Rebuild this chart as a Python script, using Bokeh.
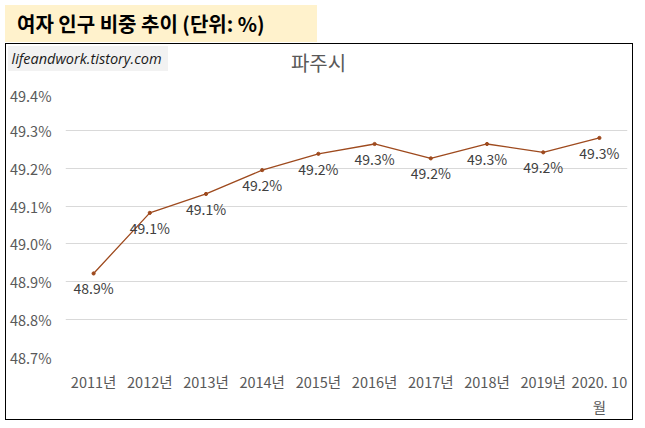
from bokeh.plotting import figure
from bokeh.models import Div, FixedTicker, PrintfTickFormatter, ColumnDataSource
from bokeh.layouts import column
from bokeh.embed import file_html
from bokeh.resources import INLINE
from bokeh.core.properties import value

header = "여자 인구 비중 추이 (단위: %)"
chart_title = "파주시"
watermark = "lifeandwork.tistory.com"
categories = ["2011년", "2012년", "2013년", "2014년", "2015년", "2016년",
              "2017년", "2018년", "2019년", "2020. 10\n월"]
values = [48.922, 49.082, 49.132, 49.195, 49.238, 49.264, 49.226, 49.264, 49.242, 49.280]
data_labels = ["48.9%", "49.1%", "49.1%", "49.2%", "49.2%", "49.3%", "49.2%", "49.3%", "49.2%", "49.3%"]
y_ticks = [48.7, 48.8, 48.9, 49.0, 49.1, 49.2, 49.3, 49.4]

KR = "Noto Sans CJK KR"
LINE = "#9E4A1E"
W = 626

src = ColumnDataSource(dict(cat=categories, val=values, lab=data_labels))

# top strip of the chart box (watermark + chart title)
strip_html = (
    '<div style="position:relative;width:626px;height:40px;background:#ffffff;overflow:hidden;">'
    '<div style="position:absolute;left:1.5px;top:1.5px;height:25px;line-height:25px;padding:0 6px 0 4px;'
    'background:#F2F2F2;font-family:\'Open Sans\';font-style:italic;font-size:14.5px;color:#1a1a1a;'
    'white-space:nowrap;">' + watermark + '</div>'
    '<div style="position:absolute;left:262.5px;width:100px;top:6px;line-height:25px;text-align:center;'
    'font-family:\'Noto Sans CJK KR\';font-size:20px;color:#595959;white-space:nowrap;">'
    + chart_title + '</div></div>'
)
top = Div(text=strip_html, width=W, height=40, margin=0)

p = figure(x_range=categories, y_range=(48.7, 49.4), width=W, height=335,
           output_backend="svg", toolbar_location=None,
           min_border_left=56, min_border_right=5, min_border_top=8, min_border_bottom=60)
p.outline_line_color = None
p.background_fill_color = "white"
p.border_fill_color = "white"

p.xgrid.visible = False
p.ygrid.grid_line_color = "#D9D9D9"
p.ygrid.grid_line_width = 1

p.yaxis.ticker = FixedTicker(ticks=y_ticks)
p.yaxis.formatter = PrintfTickFormatter(format="%.1f%%")
for ax in (p.xaxis[0], p.yaxis[0]):
    ax.axis_line_color = None
    ax.major_tick_line_color = None
    ax.minor_tick_line_color = None
    ax.major_tick_out = 0
    ax.major_tick_in = 0
    ax.major_label_text_font = KR
    ax.major_label_text_color = "#595959"
p.yaxis.major_label_text_font_size = "14.5px"
p.xaxis.major_label_text_font_size = "14.5px"
p.yaxis.major_label_standoff = 14
p.xaxis.major_label_standoff = 13

p.line(x="cat", y="val", source=src, line_color=LINE, line_width=1.3)
p.scatter(x="cat", y="val", source=src, size=3.2, fill_color=LINE, line_color=LINE)
p.text(x="cat", y="val", text="lab", source=src, text_align="center", text_baseline="middle",
       y_offset=15, text_font=value(KR), text_font_size="14px", text_color="#404040")

box = column(top, p, spacing=0, margin=(0, 0, 0, 5),
             styles={"border": "1.5px solid black", "background": "#ffffff"})

div = Div(text=header, width=312, height=37, margin=(5, 5, 1, 5),
          styles={"background-color": "#FFF2CC", "font-weight": "bold", "font-size": "20px",
                  "font-family": "'Noto Sans CJK KR'", "padding-left": "12px",
                  "line-height": "37px", "color": "#000000", "box-sizing": "border-box"})

layout = column(div, box, spacing=0)
open("out.html", "w").write(file_html(layout, INLINE))
